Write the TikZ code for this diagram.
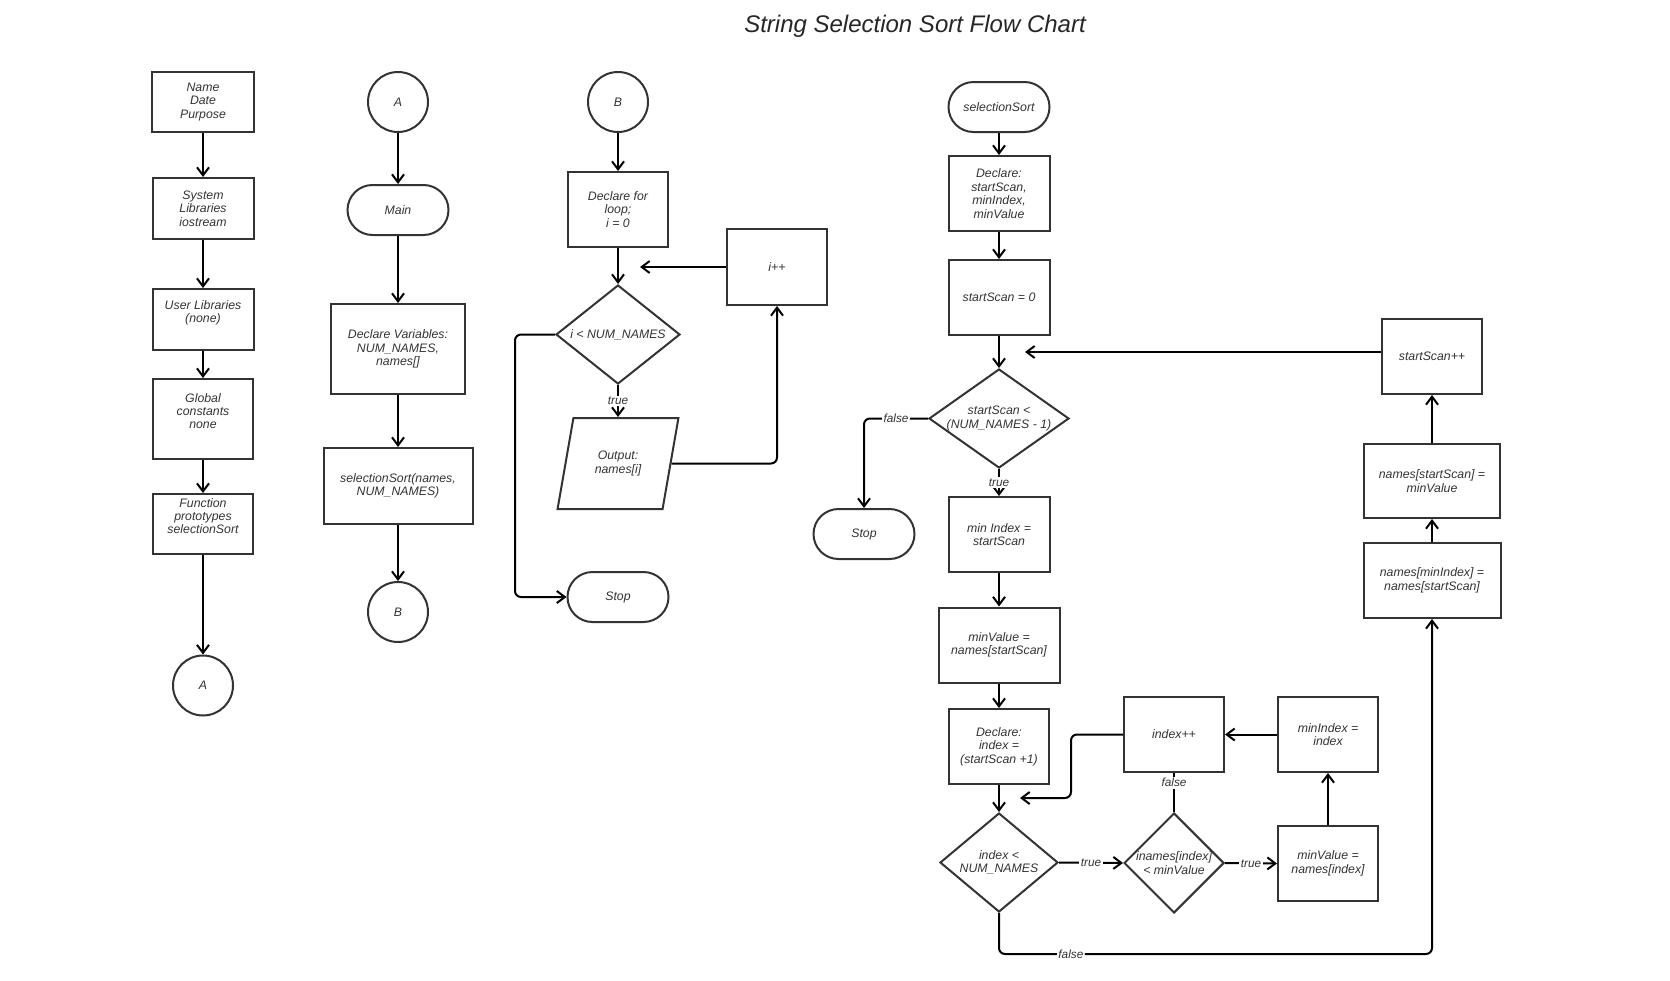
\documentclass[tikz,border=0pt]{standalone}
\usepackage{fontspec}
\setmainfont{Liberation Sans}
\usetikzlibrary{shapes.geometric,arrows.meta}
\definecolor{ink}{HTML}{333333}

\begin{document}
\begin{tikzpicture}[x=1pt,y=-1pt,
  txt/.style={align=center,text=ink,font=\fontsize{12.3}{13.4}\selectfont\itshape},
  box/.style 2 args={draw=ink,line width=2pt,txt,inner sep=1pt,minimum width=#1,minimum height=#2},
  hibox/.style 2 args={box={#1}{#2},text depth=16pt},
  term/.style={box={101}{50},rounded corners=25pt},
  conn/.style={circle,draw=ink,line width=2pt,txt,minimum size=60,inner sep=0pt},
  dec/.style 2 args={diamond,draw=ink,line width=2pt,minimum width=#1,minimum height=#2,inner sep=0pt},
  arr/.style={line width=2pt,-{Straight Barb[length=8pt,width=12pt]}},
  lbl/.style={fill=white,inner sep=1.5pt,text=ink,font=\fontsize{11.8}{13}\selectfont\itshape}]
\useasboundingbox (0,0) rectangle (1670,980);
\node[font=\fontsize{24}{28}\selectfont\itshape,text=black!85] (title) at (915,26) {String Selection Sort Flow Chart};
% header column
\node[box={102}{60}] (name) at (203,102) {Name\\Date\\Purpose};
\node[box={101}{61}] (syslib) at (203,208.5) {System\\Libraries\\iostream};
\node[hibox={101}{61}] (userlib) at (203,319.5) {User Libraries\\(none)};
\node[hibox={100}{80}] (global) at (203,419) {Global\\constants\\none};
\node[hibox={100}{60}] (proto) at (203,524) {Function\\prototypes\\selectionSort};
\node[conn] (A1) at (203,685.5) {A};
% main
\node[conn] (A2) at (398,102) {A};
\node[term] (main) at (398,210) {Main};
\node[box={134}{90}] (declvars) at (398,349) {Declare Variables:\\NUM\_NAMES,\\names[]};
\node[box={149}{76}] (selcall) at (398,486) {selectionSort(names,\\NUM\_NAMES)};
\node[conn] (B2) at (398,612) {B};
% output loop
\node[conn] (B3) at (618,102) {B};
\node[box={100}{75}] (declfor) at (618,209.5) {Declare for\\loop;\\i = 0};
\node[box={100}{76}] (ipp) at (777,267) {i++};
\node[dec={124}{99},label={[txt]center:i < NUM\_NAMES}] (dloop) at (618,334.5) {};
\node[box={121}{91},trapezium,trapezium left angle=72,trapezium right angle=108,trapezium stretches=true] (output) at (618,463.5) {Output:\\names[i]};
\node[term] (stop3) at (618,597) {Stop};
\coordinate (iback) at (640,267);
% selectionSort
\node[term] (ss) at (999,107) {selectionSort};
\node[box={101}{75}] (declss) at (999,193.5) {Declare:\\startScan,\\minIndex,\\minValue};
\node[box={101}{75}] (ss0) at (999,297.5) {startScan = 0};
\node[dec={140}{99},label={[txt]center:{startScan <\\(NUM\_NAMES - 1)}}] (dss) at (999,418.5) {};
\node[term] (stop4) at (864,534) {Stop};
\node[box={101}{75}] (minidx) at (999,534.5) {min Index =\\startScan};
\node[box={121}{75}] (minval) at (999,645) {minValue =\\names[startScan]};
\node[box={100}{75}] (declidx) at (999,746.5) {Declare:\\index =\\(startScan +1)};
\node[dec={118}{99},label={[txt]center:{index <\\NUM\_NAMES}}] (didx) at (999,862.5) {};
\node[dec={100}{100},label={[txt]center:{inames[index]\\< minValue}}] (dnames) at (1174,863) {};
\node[box={100}{75}] (idxpp) at (1174,734.5) {index++};
\node[box={100}{75}] (mvn) at (1328,863.5) {minValue =\\names[index]};
\node[box={100}{75}] (mii) at (1328,734.5) {minIndex =\\index};
\node[box={100}{75}] (sspp) at (1432,356.5) {startScan++};
\node[box={136}{74}] (nsm) at (1432,481) {names[startScan] =\\minValue};
\node[box={137}{75}] (nmi) at (1432,580.5) {names[minIndex] =\\names[startScan]};
\coordinate (ssback) at (1025,352);
\coordinate (idxback) at (1020,798);
% connectors
\foreach \a/\b in {name/syslib,syslib/userlib,userlib/global,global/proto,proto/A1,
  A2/main,main/declvars,declvars/selcall,selcall/B2,B3/declfor,declfor/dloop,
  ss/declss,declss/ss0,ss0/dss,minidx/minval,minval/declidx,declidx/didx,
  nmi/nsm,nsm/sspp,mvn/mii,mii/idxpp}
  \draw[arr] (\a) -- (\b);
\draw[arr] (ipp.west) -- (iback);
\draw[arr] (dloop.south) -- node[lbl]{true} (output.north);
\draw[arr,rounded corners=6pt] (output.east) -| (ipp.south);
\draw[arr,rounded corners=6pt] (dloop.west) -- ++(-40,0) |- (stop3.west);
\draw[arr] (sspp.west |- ssback) -- (ssback);
\draw[arr,rounded corners=6pt] (dss.west) -| node[lbl,pos=.25]{false} (stop4.north);
\draw[arr] (dss.south) -- node[lbl]{true} (minidx.north);
\draw[arr] (didx.east) -- node[lbl]{true} (dnames.west);
\draw[arr] (dnames.east) -- node[lbl]{true} (mvn.west);
\draw[line width=2pt] (dnames.north) -- node[lbl,pos=.75]{false} (idxpp.south);
\draw[arr,rounded corners=6pt] (idxpp.west) -- ++(-52,0) |- (idxback);
\draw[arr,rounded corners=6pt] (didx.south) -- ++(0,41) -| node[lbl,pos=.083]{false} (nmi.south);
\end{tikzpicture}
\end{document}
